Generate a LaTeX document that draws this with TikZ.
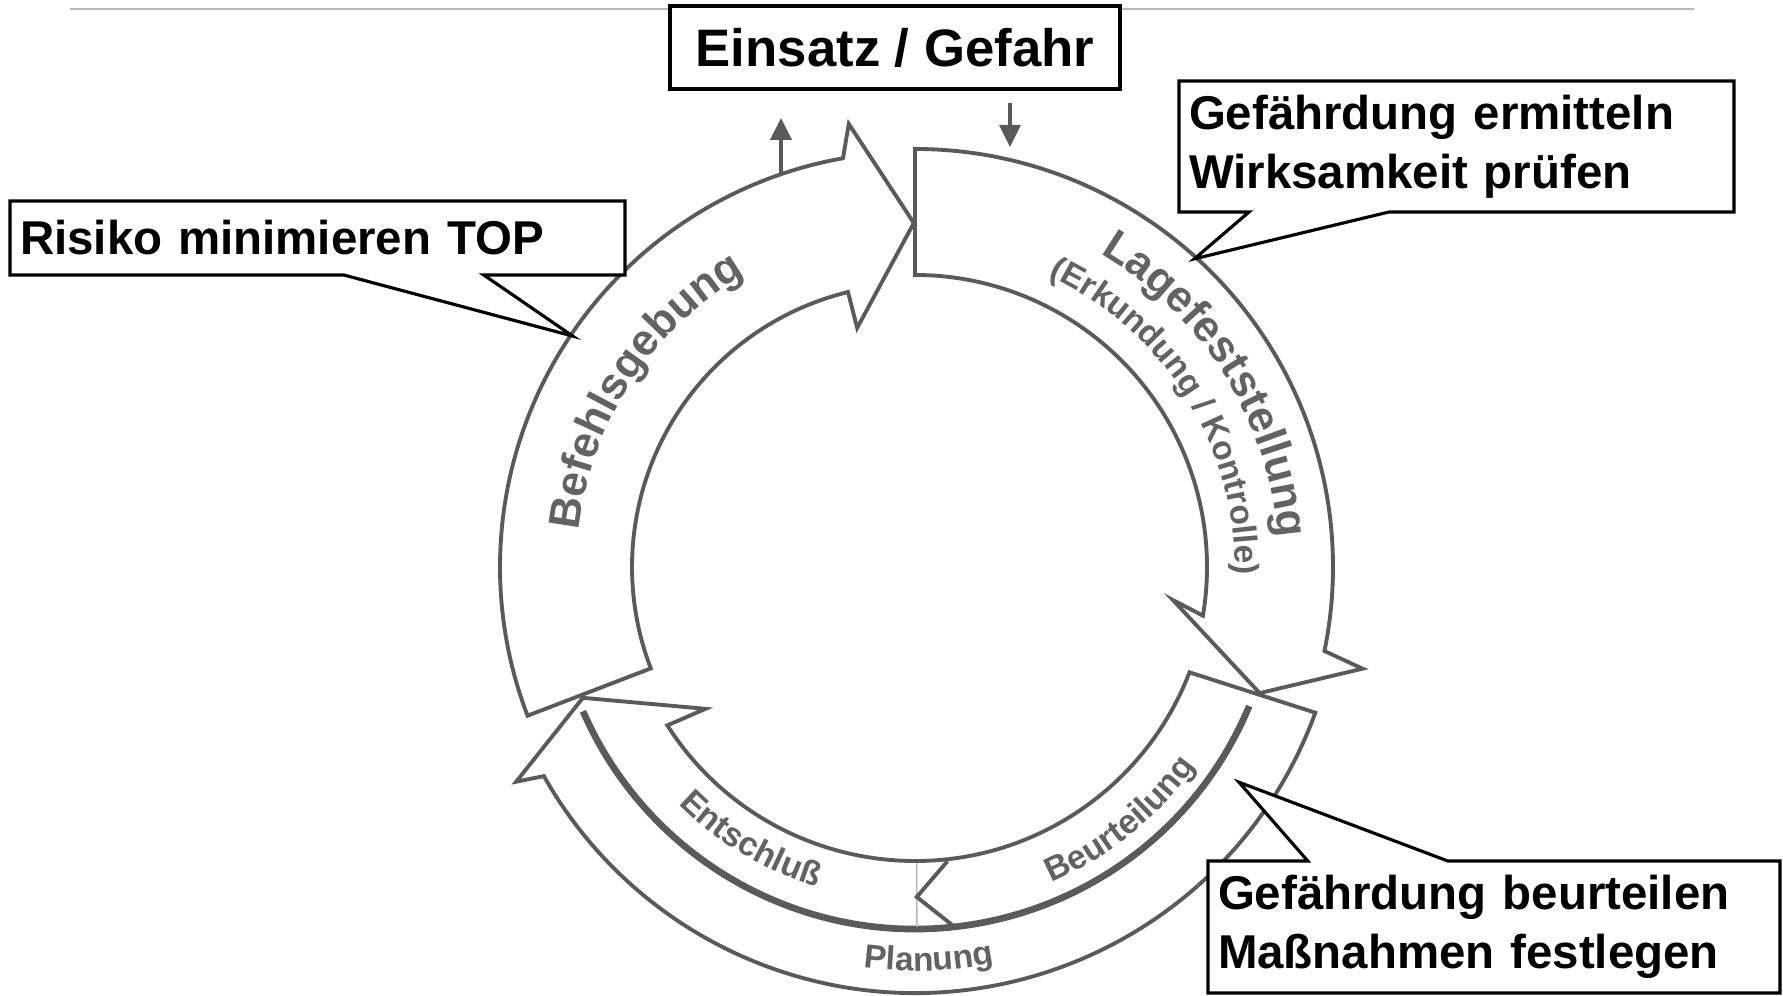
\documentclass[tikz,border=0pt]{standalone}
\usepackage{fontspec}
\setmainfont{Liberation Sans}
\usepackage{tikz}
\usetikzlibrary{shapes.callouts, arrows.meta, decorations.text, positioning}

\definecolor{ringgray}{HTML}{5A5A5A}
\definecolor{labelgray}{HTML}{626262}
\definecolor{rulegray}{HTML}{B9B9B9}

\tikzstyle{notebox} = [rectangle callout, draw=black, fill=white, line width=0.9pt, inner xsep=1mm, inner ysep=0pt, align=left, font=\fontsize{13.5}{16.8}\selectfont\bfseries, callout pointer width=14mm]
\tikzstyle{headbox} = [rectangle, draw=black, fill=white, line width=0.9pt, minimum width=45mm, minimum height=8.3mm, inner sep=0pt, font=\fontsize{15}{15}\selectfont\bfseries]
\tikzstyle{band} = [draw=ringgray, fill=white, line width=1.1pt]
\tikzstyle{divider} = [draw=ringgray, line width=1.9pt]
\tikzstyle{arrow} = [ringgray, line width=1.2pt, -{Triangle[length=2.2mm, width=2.1mm]}]
\tikzstyle{ringtext} = [decorate, decoration={text along path, text align=center, text color=labelgray}]

\newcommand{\bigband}{\fontsize{12.5}{12.5}\selectfont\bfseries}
\newcommand{\midband}{\fontsize{9.6}{9.6}\selectfont\bfseries}
\newcommand{\smallband}{\fontsize{9.5}{9.5}\selectfont\bfseries}

\begin{document}
\begin{tikzpicture}[x=0.1mm, y=0.1mm]
\useasboundingbox (0,0) rectangle (1783,996);

% --- Header rule and title ---
\coordinate (ruleL) at (70,987);
\coordinate (ruleR) at (1694,987);
\draw [rulegray, line width=0.6pt] (ruleL) -- (ruleR);
\node (einsatz) [headbox] at (895,948.5) {Einsatz / Gefahr};

% --- The cycle ---
\begin{scope}[shift={(915,429)}]
    % Lagefeststellung
    \path [band] (90:418) arc[start angle=90, end angle=-11.6, radius=418]
        -- (-12.8:459) -- (-20.1:367) -- (-7.3:260) -- (-9.6:292)
        arc[start angle=-9.6, end angle=90, radius=292] -- cycle;
    % Planung / Entschluss / Beurteilung
    \path [band] (-20:426) arc[start angle=-20, end angle=-150.6, radius=426]
        -- (-151.7:453) -- (-158.5:357) -- (-145.9:253) -- (-147.4:294)
        arc[start angle=-147.4, end angle=-21, radius=294] -- cycle;
    % Befehlsgebung
    \path [band] (201:415) arc[start angle=201, end angle=100, radius=415]
        -- (98.5:448) -- (90.2:344) -- (103.6:246) -- (103.7:283)
        arc[start angle=103.7, end angle=201, radius=283] -- cycle;

    \draw [divider] (-22.6:362) arc[start angle=-22.6, end angle=-156.5, radius=362];
    \draw [ringgray!45, line width=0.4pt] (-89.7:296) -- (-89.7:360);
    \draw [ringgray, line width=1.1pt] (-83.7:296) -- (-89.7:330) -- (-83.9:361);

    % labels along the bands
    \path [ringtext, decoration={text={|\bigband|Befehlsgebung}}] (190:338) arc[start angle=190, end angle=104, radius=338];
    \path [ringtext, decoration={text={|\bigband|Lagefeststellung}}] (74:364) arc[start angle=74, end angle=-10, radius=364];
    \path [ringtext, decoration={text={|\smallband|(Erkundung / Kontrolle)}}] (80:320) arc[start angle=80, end angle=-16, radius=320];
    \path [ringtext, decoration={text={|\midband|Entschluß}}] (215:335) arc[start angle=215, end angle=263, radius=335];
    \path [ringtext, decoration={text={|\midband|Beurteilung}}] (285:344) arc[start angle=285, end angle=333, radius=344];
    \path [ringtext, decoration={text={|\smallband|Planung}}] (255:404) arc[start angle=255, end angle=289, radius=404];

    \coordinate (risTip) at (146:413);
    \coordinate (ermTip) at (47.8:416);
    \coordinate (beuTip) at (-33.6:389);
\end{scope}

% --- Small arrows to and from the title ---
\coordinate (upFoot) at (781,822);
\coordinate (upHead) at (781,878);
\coordinate (downFoot) at (1010,893);
\coordinate (downHead) at (1010,849);
\draw [arrow] (upFoot) -- (upHead);
\draw [arrow, line width=0.9pt] (downFoot) -- (downHead);

% --- Callouts ---
\node (risiko) [notebox, text width=59.5mm, minimum height=7.4mm, callout absolute pointer={(risTip)}] at (317.5,758) {Risiko minimieren TOP};
\node (ermitteln) [notebox, text width=53.5mm, minimum height=13.1mm, callout absolute pointer={(ermTip)}] at (1456.5,849.5) {Gefährdung ermitteln\\Wirksamkeit prüfen};
\node (beurteilen) [notebox, text width=55.2mm, minimum height=13.2mm, callout absolute pointer={(beuTip)}] at (1494,69) {Gefährdung beurteilen\\Maßnahmen festlegen};

\end{tikzpicture}
\end{document}
